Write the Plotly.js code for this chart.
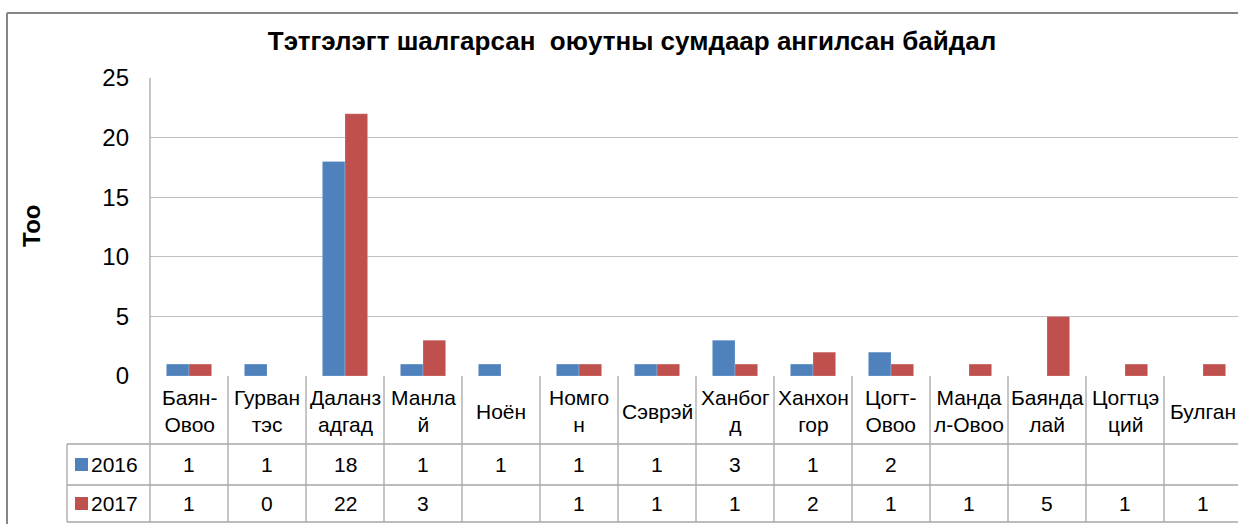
<!DOCTYPE html>
<html>
<head>
<meta charset="utf-8">
<script src="https://cdn.plot.ly/plotly-3.0.1.min.js"></script>
<style>html,body{margin:0;padding:0;background:#fff;}#chart{width:1238px;height:524px;}</style>
</head>
<body>
<div id="chart"></div>
<script>
const categories = ["Баян-<br>Овоо","Гурван<br>тэс","Даланз<br>адгад","Манла<br>й","Ноён","Номго<br>н","Сэврэй","Ханбог<br>д","Ханхон<br>гор","Цогт-<br>Овоо","Манда<br>л-Овоо","Баянда<br>лай","Цогтцэ<br>ций","Булган"];
const seriesNames = ["2016","2017"];
const values2016 = [1,1,18,1,1,1,1,3,1,2,null,null,null,null];
const values2017 = [1,0,22,3,null,1,1,1,2,1,1,5,1,1];
const yTicks = [0,5,10,15,20,25];

const colors = ["#4f81bd","#c0504d"];
const FONT = "Liberation Sans, Arial, sans-serif";
const W = 1238, H = 524;
const mL = 150, mT = 78, mB = 148;
const plotW = W - mL, plotH = H - mT - mB;
const xr = [-0.5, -0.5 + plotW / 78];
const xPaper = v => (v - xr[0]) / (xr[1] - xr[0]);
const pxX = px => (px - mL) / plotW;
const pxY = py => (H - mB - py) / plotH;

const idx = categories.map((c, i) => i);
const traces = [values2016, values2017].map((vals, k) => ({
  type: "bar", x: idx, y: vals, name: seriesNames[k],
  marker: {color: colors[k], line: {color: "rgba(255,255,255,0.4)", width: 0.5}},
  hoverinfo: "y"
}));

const shapes = [];
const annotations = [];
const lineC = "#a6a6a6";
const yHead = 376, yR1 = 444, yR2 = 485, yR3 = 522;
for (let i = 0; i <= categories.length; i++) {
  const xp = xPaper(i - 0.5);
  shapes.push({type:"line", xref:"paper", yref:"paper", x0:xp, x1:xp, y0:pxY(yHead), y1:pxY(yR3), line:{color:lineC, width:1.3}});
}
shapes.push({type:"line", xref:"paper", yref:"paper", x0:pxX(67), x1:pxX(67), y0:pxY(yR1), y1:pxY(yR3), line:{color:lineC, width:1.3}});
[yR1, yR2, yR3].forEach(py => shapes.push({type:"line", xref:"paper", yref:"paper", x0:pxX(67), x1:1.01, y0:pxY(py), y1:pxY(py), line:{color:lineC, width:1.3}}));
shapes.push({type:"line", xref:"paper", yref:"paper", x0:0, x1:0, y0:0, y1:1, line:{color:lineC, width:1.3}});
shapes.push({type:"line", xref:"paper", yref:"paper", x0:pxX(7), x1:1.01, y0:pxY(13), y1:pxY(13), line:{color:"#868686", width:2}});
shapes.push({type:"line", xref:"paper", yref:"paper", x0:pxX(7), x1:pxX(7), y0:pxY(13), y1:pxY(530), line:{color:"#868686", width:2}});

categories.forEach((c, i) => {
  annotations.push({xref:"x", yref:"paper", x:i, y:pxY(411), text:c, showarrow:false, xanchor:"center", yanchor:"middle", font:{family:FONT, size:21, color:"#000"}});
});
[values2016, values2017].forEach((vals, k) => {
  const py = k === 0 ? 464 : 503;
  vals.forEach((v, i) => {
    if (v === null) return;
    annotations.push({xref:"x", yref:"paper", x:i, y:pxY(py), text:String(v), showarrow:false, xanchor:"center", yanchor:"middle", font:{family:FONT, size:21, color:"#000"}});
  });
  shapes.push({type:"rect", xref:"paper", yref:"paper", x0:pxX(75), x1:pxX(88), y0:pxY(py-6), y1:pxY(py+7), fillcolor:colors[k], line:{width:0}});
  annotations.push({xref:"paper", yref:"paper", x:pxX(89), y:pxY(py), text:seriesNames[k], showarrow:false, xanchor:"left", yanchor:"middle", font:{family:FONT, size:21, color:"#000"}});
});
annotations.push({xref:"paper", yref:"paper", x:pxX(32), y:pxY(226), text:"<b>Тоо</b>", textangle:-90, showarrow:false, xanchor:"center", yanchor:"middle", font:{family:FONT, size:24, color:"#000"}});

const layout = {
  width: W, height: H,
  margin: {l: mL, r: 0, t: mT, b: mB, pad: 0},
  paper_bgcolor: "#fff", plot_bgcolor: "#fff",
  showlegend: false,
  barmode: "group", bargap: 0.42, bargroupgap: 0,
  title: {text: "<b>Тэтгэлэгт шалгарсан  оюутны сумдаар ангилсан байдал</b>", x: 632 / W, xanchor: "center", y: 1 - 41 / H, yanchor: "middle", font: {family: FONT, size: 26, color: "#000"}},
  xaxis: {range: xr, showticklabels: false, showgrid: false, zeroline: false, showline: false, ticks: "", fixedrange: true},
  yaxis: {range: [0, 25], tickvals: yTicks, showgrid: true, gridcolor: "#bfbfbf", gridwidth: 1.3, zeroline: false, showline: false, ticks: "", ticklabelstandoff: 20, tickfont: {family: FONT, size: 24, color: "#000"}},
  shapes, annotations
};
Plotly.newPlot("chart", traces, layout, {staticPlot: true});
</script>
</body>
</html>
